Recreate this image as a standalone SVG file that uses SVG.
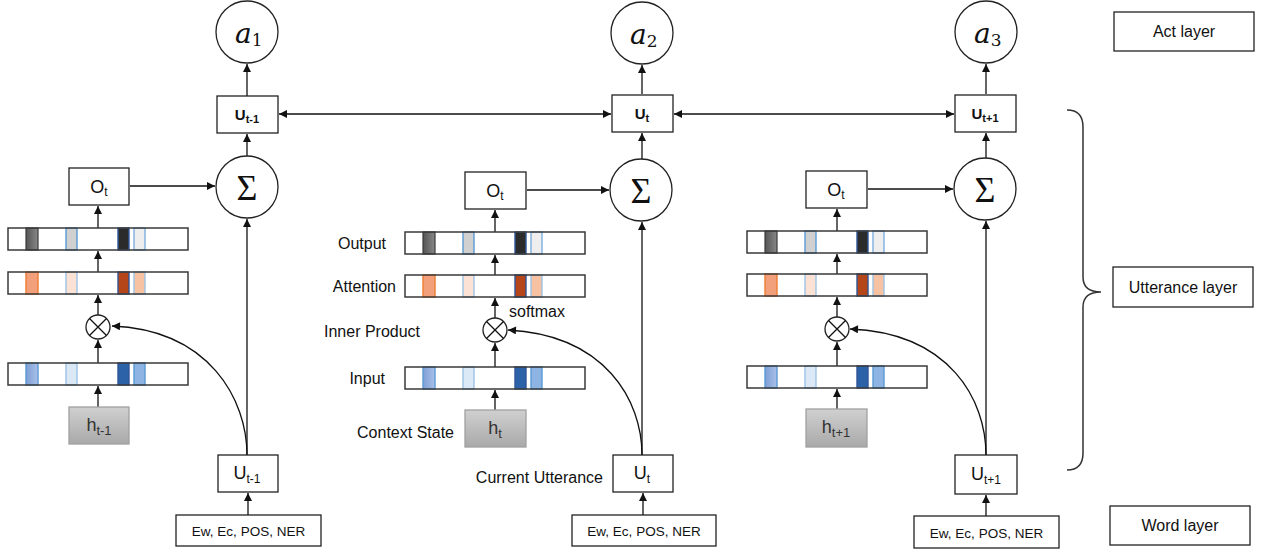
<svg xmlns="http://www.w3.org/2000/svg" xmlns:xlink="http://www.w3.org/1999/xlink" width="1261" height="550" viewBox="0 0 1261 550">
<style>
  .box{fill:#fff;stroke:#222;stroke-width:1.3}
  .circ{fill:#fff;stroke:#222;stroke-width:1.3}
  .barline{fill:none;stroke:#3a3a3a;stroke-width:1.5}
  .hbox{fill:url(#hgrad);stroke:#a0a0a0;stroke-width:1.3}
  .t{font-family:"Liberation Sans","Noto Sans",Arial,sans-serif;font-size:16px;fill:#111}
  .big{font-family:"Liberation Sans","Noto Sans",Arial,sans-serif;font-size:18px;fill:#111}
  .hl{font-family:"Liberation Sans","Noto Sans",Arial,sans-serif;font-size:18px;fill:#333}
  .ew{font-family:"Liberation Sans","Noto Sans",Arial,sans-serif;font-size:13.5px;fill:#111}
  .ub{font-family:"Liberation Sans",Arial,sans-serif;font-size:15px;font-weight:bold;fill:#111}
  .am{font-family:"DejaVu Serif",serif;font-style:italic;font-size:28px;fill:#111}
  .sig{font-family:"Liberation Serif","Times New Roman",serif;font-size:36px;fill:#111}
  .ln{fill:none;stroke:#111;stroke-width:1.3}
</style>
<defs>
  <marker id="ah" viewBox="0 0 10 10" refX="10" refY="5" markerWidth="9" markerHeight="8" markerUnits="userSpaceOnUse" orient="auto-start-reverse">
    <path d="M0,0 L10,5 L0,10 z" fill="#111"/>
  </marker>
  <linearGradient id="hgrad" x1="0" y1="0" x2="0" y2="1">
    <stop offset="0" stop-color="#d0d0d0"/>
    <stop offset="1" stop-color="#a9a9a9"/>
  </linearGradient>
  <linearGradient id="gDark" x1="0" y1="0" x2="1" y2="0">
    <stop offset="0" stop-color="#555"/><stop offset="1" stop-color="#888"/>
  </linearGradient>
  <linearGradient id="gBlue" x1="0" y1="0" x2="1" y2="0">
    <stop offset="0" stop-color="#7f9fd6"/><stop offset="1" stop-color="#a9c0e8"/>
  </linearGradient>
  <g id="barOutput">
    <rect width="180" height="22" fill="#fff"/>
    <rect x="18" width="12" height="22" fill="url(#gDark)" stroke="#3a3a3a" stroke-width="1.2"/>
    <rect x="58" width="11" height="22" fill="#d0d0d0" stroke="#5b9bd5" stroke-width="1.4"/>
    <rect x="110" width="11" height="22" fill="#2b2b2b" stroke="#2f5597" stroke-width="1.4"/>
    <rect x="126" width="11" height="22" fill="#eeeeee" stroke="#7eaee0" stroke-width="1.4"/>
    <rect class="barline" width="180" height="22"/>
  </g>
  <g id="barAttn">
    <rect width="180" height="22" fill="#fff"/>
    <rect x="18" width="12" height="22" fill="#f2a07c" stroke="#ed7d31" stroke-width="1.4"/>
    <rect x="58" width="11" height="22" fill="#fbe2d4" stroke="#9dc3e6" stroke-width="1.4"/>
    <rect x="110" width="11" height="22" fill="#b4461a" stroke="#2f5597" stroke-width="1.4"/>
    <rect x="126" width="11" height="22" fill="#f6c2a2" stroke="#9dc3e6" stroke-width="1.4"/>
    <rect class="barline" width="180" height="22"/>
  </g>
  <g id="barInput">
    <rect width="180" height="22" fill="#fff"/>
    <rect x="18" width="12" height="22" fill="url(#gBlue)" stroke="#5b9bd5" stroke-width="1.4"/>
    <rect x="58" width="11" height="22" fill="#dbe8f6" stroke="#9dc3e6" stroke-width="1.4"/>
    <rect x="110" width="11" height="22" fill="#2b62a8" stroke="#2f5597" stroke-width="1.4"/>
    <rect x="126" width="11" height="22" fill="#8db4e2" stroke="#5b9bd5" stroke-width="1.4"/>
    <rect class="barline" width="180" height="22"/>
  </g>
</defs>

<rect width="1261" height="550" fill="#fff"/>

<!-- Connectors -->
<g id="connectors">
  <!-- left column -->
  <line class="ln" x1="98" y1="407" x2="98" y2="386" marker-end="url(#ah)"/>
  <line class="ln" x1="98" y1="363" x2="98" y2="340" marker-end="url(#ah)"/>
  <line class="ln" x1="98" y1="315" x2="98" y2="295" marker-end="url(#ah)"/>
  <line class="ln" x1="98" y1="272" x2="98" y2="251" marker-end="url(#ah)"/>
  <line class="ln" x1="98" y1="228" x2="98" y2="206" marker-end="url(#ah)"/>
  <line class="ln" x1="130" y1="186" x2="215" y2="186" marker-end="url(#ah)"/>
  <line class="ln" x1="247" y1="455" x2="247" y2="219" marker-end="url(#ah)"/>
  <path class="ln" d="M247,455 C247,400 210,330 112,326" marker-end="url(#ah)"/>
  <line class="ln" x1="248" y1="515" x2="248" y2="493" marker-end="url(#ah)"/>
  <line class="ln" x1="247" y1="156" x2="247" y2="134" marker-end="url(#ah)"/>
  <line class="ln" x1="247" y1="96" x2="247" y2="64" marker-end="url(#ah)"/>
  <!-- middle column -->
  <line class="ln" x1="495" y1="410" x2="495" y2="390" marker-end="url(#ah)"/>
  <line class="ln" x1="495" y1="367" x2="495" y2="343" marker-end="url(#ah)"/>
  <line class="ln" x1="495" y1="318" x2="495" y2="298" marker-end="url(#ah)"/>
  <line class="ln" x1="495" y1="275" x2="495" y2="255" marker-end="url(#ah)"/>
  <line class="ln" x1="495" y1="232" x2="495" y2="210" marker-end="url(#ah)"/>
  <line class="ln" x1="527" y1="190" x2="609" y2="190" marker-end="url(#ah)"/>
  <line class="ln" x1="642" y1="455" x2="642" y2="222" marker-end="url(#ah)"/>
  <path class="ln" d="M642,455 C642,400 605,335 508,330" marker-end="url(#ah)"/>
  <line class="ln" x1="643" y1="515" x2="643" y2="493" marker-end="url(#ah)"/>
  <line class="ln" x1="642" y1="159" x2="642" y2="133" marker-end="url(#ah)"/>
  <line class="ln" x1="642" y1="94" x2="642" y2="65" marker-end="url(#ah)"/>
  <!-- right column -->
  <line class="ln" x1="837" y1="409" x2="837" y2="389" marker-end="url(#ah)"/>
  <line class="ln" x1="837" y1="366" x2="837" y2="342" marker-end="url(#ah)"/>
  <line class="ln" x1="837" y1="317" x2="837" y2="297" marker-end="url(#ah)"/>
  <line class="ln" x1="837" y1="274" x2="837" y2="254" marker-end="url(#ah)"/>
  <line class="ln" x1="837" y1="231" x2="837" y2="209" marker-end="url(#ah)"/>
  <line class="ln" x1="868" y1="189" x2="953" y2="189" marker-end="url(#ah)"/>
  <line class="ln" x1="986" y1="455" x2="986" y2="221" marker-end="url(#ah)"/>
  <path class="ln" d="M986,455 C986,400 950,333 850,329" marker-end="url(#ah)"/>
  <line class="ln" x1="986" y1="516" x2="986" y2="495" marker-end="url(#ah)"/>
  <line class="ln" x1="986" y1="158" x2="986" y2="133" marker-end="url(#ah)"/>
  <line class="ln" x1="986" y1="94" x2="986" y2="64" marker-end="url(#ah)"/>
  <!-- horizontal utterance links -->
  <line class="ln" x1="279" y1="114" x2="611" y2="114" marker-start="url(#ah)" marker-end="url(#ah)"/>
  <line class="ln" x1="674" y1="114" x2="954" y2="114" marker-start="url(#ah)" marker-end="url(#ah)"/>
  <!-- brace -->
  <path d="M1067,110 Q1083,110 1083,127 L1083,277 Q1083,292 1101,292 Q1083,292 1083,307 L1083,453 Q1083,470 1067,470" fill="none" stroke="#333" stroke-width="1.5"/>
</g>

<!-- Left column -->
<g id="a1"><circle class="circ" cx="247" cy="32" r="31"/><text class="am" x="235" y="43">a<tspan font-style="normal" font-size="17" dy="3">1</tspan></text></g>
<g id="U-top-1"><rect class="box" x="217" y="96" width="61" height="37"/><text class="ub" x="247" y="120" text-anchor="middle">U<tspan font-size="11" dy="3">t-1</tspan></text></g>
<g id="sum-1"><circle class="circ" cx="247" cy="187" r="31"/><text class="sig" x="247" y="200" text-anchor="middle">Σ</text></g>
<g id="O-1"><rect class="box" x="69" y="168" width="60" height="37"/><text class="big" x="99" y="193" text-anchor="middle">O<tspan font-size="12" dy="3">t</tspan></text></g>
<g id="out-1"><use xlink:href="#barOutput" x="8" y="228"/></g>
<g id="attn-1"><use xlink:href="#barAttn" x="8" y="272"/></g>
<g id="prod-1"><circle class="circ" cx="98" cy="327" r="12"/><path d="M89.5,318.5 L106.5,335.5 M106.5,318.5 L89.5,335.5" stroke="#111" stroke-width="1.3"/></g>
<g id="in-1"><use xlink:href="#barInput" x="8" y="363"/></g>
<g id="h-1"><rect class="hbox" x="69" y="407" width="60" height="37"/><text class="hl" x="99" y="431" text-anchor="middle">h<tspan font-size="13" dy="4">t-1</tspan></text></g>
<g id="U-bot-1"><rect class="box" x="218" y="455" width="60" height="37"/><text class="big" x="247" y="479" text-anchor="middle">U<tspan font-size="12" dy="4">t-1</tspan></text></g>
<g id="ew-1"><rect class="box" x="176" y="515" width="145" height="31"/><text class="ew" x="248.5" y="536" text-anchor="middle">Ew, Ec, POS, NER</text></g>

<!-- Middle column -->
<g id="a2"><circle class="circ" cx="642" cy="33" r="31"/><text class="am" x="630" y="44">a<tspan font-style="normal" font-size="17" dy="3">2</tspan></text></g>
<g id="U-top-2"><rect class="box" x="612" y="95" width="61" height="37"/><text class="ub" x="642" y="119" text-anchor="middle">U<tspan font-size="11" dy="3">t</tspan></text></g>
<g id="sum-2"><circle class="circ" cx="641" cy="190" r="31"/><text class="sig" x="641" y="203" text-anchor="middle">Σ</text></g>
<g id="O-2"><rect class="box" x="465" y="172" width="61" height="37"/><text class="big" x="495" y="197" text-anchor="middle">O<tspan font-size="12" dy="3">t</tspan></text></g>
<g id="out-2"><use xlink:href="#barOutput" x="405" y="232"/></g>
<g id="attn-2"><use xlink:href="#barAttn" x="405" y="275"/></g>
<g id="prod-2"><circle class="circ" cx="495" cy="330" r="12"/><path d="M486.5,321.5 L503.5,338.5 M503.5,321.5 L486.5,338.5" stroke="#111" stroke-width="1.3"/></g>
<g id="in-2"><use xlink:href="#barInput" x="405" y="367"/></g>
<g id="h-2"><rect class="hbox" x="465" y="410" width="61" height="37"/><text class="hl" x="495" y="434" text-anchor="middle">h<tspan font-size="13" dy="4">t</tspan></text></g>
<g id="U-bot-2"><rect class="box" x="613" y="455" width="60" height="37"/><text class="big" x="642" y="479" text-anchor="middle">U<tspan font-size="12" dy="4">t</tspan></text></g>
<g id="ew-2"><rect class="box" x="572" y="515" width="144" height="31"/><text class="ew" x="644" y="536" text-anchor="middle">Ew, Ec, POS, NER</text></g>

<!-- Middle labels -->
<g id="labels">
  <text class="t" x="386" y="249" text-anchor="end">Output</text>
  <text class="t" x="396" y="292" text-anchor="end">Attention</text>
  <text class="t" x="509" y="317">softmax</text>
  <text class="t" x="324" y="337">Inner Product</text>
  <text class="t" x="385" y="384" text-anchor="end">Input</text>
  <text class="t" x="454" y="438" text-anchor="end">Context State</text>
  <text class="t" x="603" y="483" text-anchor="end">Current Utterance</text>
</g>

<!-- Right column -->
<g id="a3"><circle class="circ" cx="986" cy="32" r="31"/><text class="am" x="974" y="43">a<tspan font-style="normal" font-size="17" dy="3">3</tspan></text></g>
<g id="U-top-3"><rect class="box" x="955" y="95" width="61" height="37"/><text class="ub" x="985" y="119" text-anchor="middle">U<tspan font-size="11" dy="3">t+1</tspan></text></g>
<g id="sum-3"><circle class="circ" cx="985" cy="189" r="31"/><text class="sig" x="985" y="202" text-anchor="middle">Σ</text></g>
<g id="O-3"><rect class="box" x="806" y="171" width="61" height="37"/><text class="big" x="836" y="196" text-anchor="middle">O<tspan font-size="12" dy="3">t</tspan></text></g>
<g id="out-3"><use xlink:href="#barOutput" x="747" y="231"/></g>
<g id="attn-3"><use xlink:href="#barAttn" x="747" y="274"/></g>
<g id="prod-3"><circle class="circ" cx="837" cy="329" r="12"/><path d="M828.5,320.5 L845.5,337.5 M845.5,320.5 L828.5,337.5" stroke="#111" stroke-width="1.3"/></g>
<g id="in-3"><use xlink:href="#barInput" x="747" y="366"/></g>
<g id="h-3"><rect class="hbox" x="806" y="409" width="61" height="38"/><text class="hl" x="836" y="433" text-anchor="middle">h<tspan font-size="13" dy="4">t+1</tspan></text></g>
<g id="U-bot-3"><rect class="box" x="955" y="455" width="62" height="39"/><text class="big" x="986" y="480" text-anchor="middle">U<tspan font-size="12" dy="4">t+1</tspan></text></g>
<g id="ew-3"><rect class="box" x="914" y="516" width="145" height="32"/><text class="ew" x="986.5" y="538" text-anchor="middle">Ew, Ec, POS, NER</text></g>

<!-- Layer labels -->
<g id="act-layer"><rect class="box" x="1114" y="12" width="140" height="39"/><text class="t" x="1184" y="37" text-anchor="middle">Act layer</text></g>
<g id="utt-layer"><rect class="box" x="1113" y="267" width="140" height="40"/><text class="t" x="1183" y="293" text-anchor="middle">Utterance layer</text></g>
<g id="word-layer"><rect class="box" x="1110" y="506" width="140" height="39"/><text class="t" x="1180" y="531" text-anchor="middle">Word layer</text></g>
</svg>
